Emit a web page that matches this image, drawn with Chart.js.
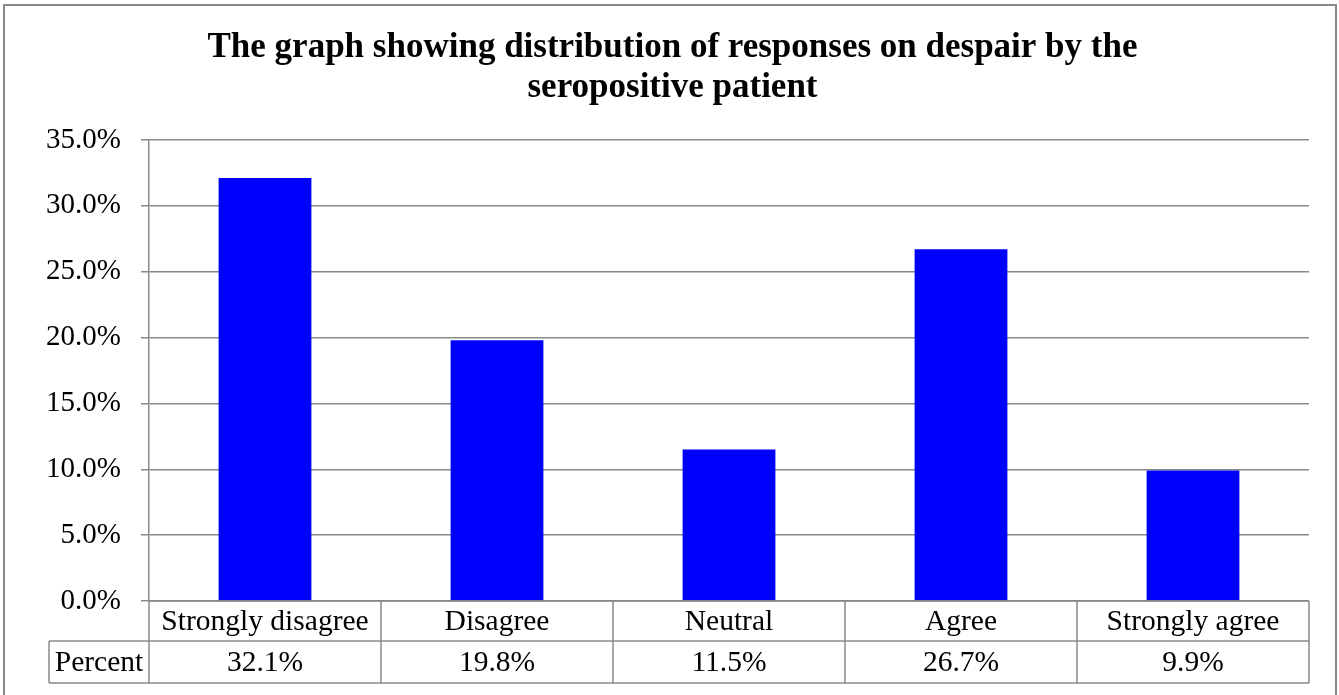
<!DOCTYPE html>
<html>
<head>
<meta charset="utf-8">
<script src="https://cdn.jsdelivr.net/npm/chart.js@4"></script>
<style>
  html, body { margin: 0; padding: 0; background: #fff; }
  #wrap { width: 1339px; height: 695px; position: relative; }
</style>
</head>
<body>
<div id="wrap"><canvas id="despairChart"></canvas></div>
<script>
// data
const categories = ['Strongly disagree', 'Disagree', 'Neutral', 'Agree', 'Strongly agree'];
const percentValues = [32.1, 19.8, 11.5, 26.7, 9.9];
const rowLabel = 'Percent';
const titleLines = ['The graph showing distribution of responses on despair by the', 'seropositive patient'];

const serif = '"Times New Roman", "Liberation Serif", serif';
const lineGray = '#898989';

// outer frame around the whole chart
const framePlugin = {
  id: 'frame',
  beforeDraw(chart) {
    const ctx = chart.ctx;
    ctx.save();
    ctx.fillStyle = '#fff';
    ctx.fillRect(0, 0, chart.width, chart.height);
    ctx.strokeStyle = lineGray;
    ctx.lineWidth = 2;
    ctx.strokeRect(4, 5, chart.width - 7, chart.height - 3);
    ctx.restore();
  }
};

// data table under the x axis
const dataTablePlugin = {
  id: 'dataTable',
  afterDraw(chart) {
    const ctx = chart.ctx;
    const area = chart.chartArea;
    const xs = chart.scales.x;
    const n = categories.length;
    const colW = (area.right - area.left) / n;
    const top = area.bottom;
    const mid = top + 40;
    const bottom = mid + 42;
    const labelLeft = 49;

    ctx.save();
    ctx.strokeStyle = lineGray;
    ctx.lineWidth = 1.5;
    ctx.beginPath();
    // horizontal rules
    ctx.moveTo(area.left, top); ctx.lineTo(area.right, top);
    ctx.moveTo(labelLeft, mid); ctx.lineTo(area.right, mid);
    ctx.moveTo(labelLeft, bottom); ctx.lineTo(area.right, bottom);
    // vertical rules
    ctx.moveTo(labelLeft, mid); ctx.lineTo(labelLeft, bottom);
    for (let i = 0; i <= n; i++) {
      const x = area.left + i * colW;
      ctx.moveTo(x, top); ctx.lineTo(x, bottom);
    }
    ctx.stroke();

    ctx.fillStyle = '#000';
    ctx.font = '29.5px ' + serif;
    ctx.textAlign = 'center';
    ctx.textBaseline = 'middle';
    categories.forEach((c, i) => {
      const cx = xs.getPixelForValue(i);
      ctx.fillText(c, cx, (top + mid) / 2 + 1);
      ctx.fillText(percentValues[i].toFixed(1) + '%', cx, (mid + bottom) / 2 + 1);
    });
    ctx.fillText(rowLabel, (labelLeft + area.left) / 2, (mid + bottom) / 2 + 1);
    ctx.restore();
  }
};

new Chart(document.getElementById('despairChart'), {
  type: 'bar',
  data: {
    labels: categories,
    datasets: [{
      label: rowLabel,
      data: percentValues,
      backgroundColor: '#0000FF',
      borderWidth: 0,
      categoryPercentage: 1,
      barPercentage: 0.4
    }]
  },
  options: {
    responsive: true,
    maintainAspectRatio: false,
    animation: false,
    // left padding keeps the title centred on the frame; the y axis fills the rest up to x=149
    layout: { padding: { top: 0, right: 30, bottom: 94, left: 36 } },
    plugins: {
      legend: { display: false },
      tooltip: { enabled: false },
      title: {
        display: true,
        text: titleLines,
        color: '#000',
        font: { family: serif, size: 35, weight: 'bold', lineHeight: 1.17 },
        padding: { top: 27, bottom: 31 }
      }
    },
    scales: {
      x: {
        display: false
      },
      y: {
        min: 0,
        max: 35,
        afterFit(scale) { scale.width = 113; },
        ticks: {
          stepSize: 5,
          color: '#000',
          padding: 20,
          font: { family: serif, size: 29 },
          callback: v => v.toFixed(1) + '%'
        },
        grid: { color: lineGray, lineWidth: 1.5, tickLength: 8, drawTicks: true },
        border: { color: lineGray, width: 1.5 }
      }
    }
  },
  plugins: [framePlugin, dataTablePlugin]
});
</script>
</body>
</html>
